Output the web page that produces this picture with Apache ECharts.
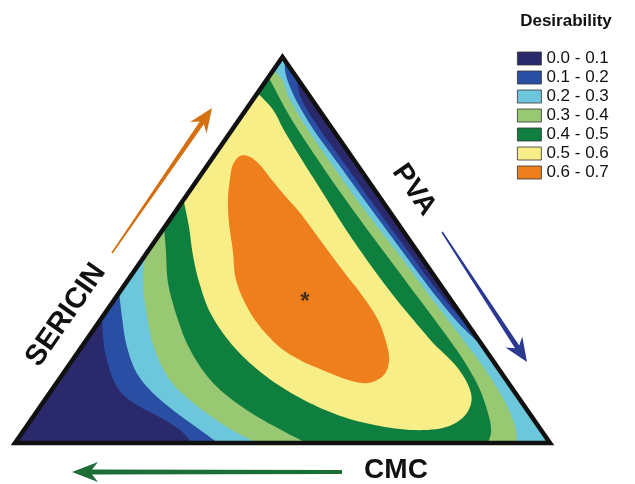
<!DOCTYPE html>
<html><head><meta charset="utf-8">
<script src="https://cdn.jsdelivr.net/npm/echarts@6/dist/echarts.min.js"></script>
<style>html,body{margin:0;padding:0;background:#fff}#c{width:635px;height:484px}</style>
</head><body><div id="c"></div>
<script>
// Ternary compositions stored as [SERICIN %, PVA %]; CMC = 100 - SERICIN - PVA
const levels = ['0.0 - 0.1','0.1 - 0.2','0.2 - 0.3','0.3 - 0.4','0.4 - 0.5','0.5 - 0.6','0.6 - 0.7'];
const levelColors = ['#29296b','#2a4ea4','#6cc7dc','#98c872','#0f7f3f','#f7ee88','#ee7f1c'];
const vertexTop = [100, 0];   // SERICIN
const vertexRight = [0, 100]; // PVA
const vertexLeft = [0, 0];    // CMC
const axisNames = ['SERICIN', 'PVA', 'CMC'];
const legendTitle = 'Desirability';

// contour D = 0.1
const c010Left = [[32.6,0],[27.5,2.7],[21.5,6.4],[14.5,11.8],[10.4,16.9],[6.7,23.7],[3.4,29.1],[0,33.1]];
const c010Right = [[94.6,5.4],[89.2,8.9],[81.1,16.5],[72.0,25.8],[63.0,34.9],[50.0,48.3],[39.6,59.1],[33.2,66.1],[29.3,70.7]];
// contour D = 0.2
const c020Left = [[38.9,0],[32.6,3.7],[25.9,7.8],[18.9,13.0],[13.7,18.4],[8.5,25.3],[3.4,32.9],[0,37.9]];
const c020Right = [[99.2,0.8],[95.3,3.0],[89.2,7.8],[81.1,15.3],[72.0,24.6],[63.0,33.8],[50.0,47.2],[39.6,58.0],[31.9,66.4],[27.2,72.1],[25.1,74.9]];
// contour D = 0.3
const c030Left = [[48.7,0],[41.5,3.2],[32.6,8.4],[24.1,14.1],[16.3,20.8],[10.4,28.1],[4.1,37.6],[0,45.2]];
const c030Right = [[96.6,0],[94.0,3.0],[89.2,6.7],[81.1,14.2],[70.7,24.6],[60.4,35.1],[50.0,46.1],[39.6,56.9],[29.3,67.7],[20.2,77.2],[13.7,83.5],[8.5,88.1],[3.9,91.6],[0,93.8]];
// contour D = 0.4
const c040Left = [[55.7,0],[50.0,3.2],[41.5,7.85],[32.6,14.0],[24.1,20.7],[15.5,29.3],[8.5,39.1],[2.6,49.5],[0,54.6]];
const c040Right = [[94.8,0],[91.5,2.9],[83.7,9.9],[73.3,20.0],[63.0,30.3],[52.6,41.0],[42.2,51.8],[31.9,62.5],[22.8,71.8],[15.0,79.0],[8.5,84.0],[3.4,87.3],[0,88.4]];
// contour D = 0.5 (meets the SERICIN-CMC edge at both ends)
const c050 = [[63.0,0],[55.7,4.7],[48.7,8.9],[41.5,13.7],[33.2,20.1],[24.6,28.8],[17.4,38.1],[11.7,47.4],[7.5,56.1],[4.9,63.9],[3.4,72.1],[3.9,78.0],[6.5,80.4],[10.6,80.0],[15.0,77.2],[20.2,72.2],[25.4,65.8],[29.3,61.4],[37.0,52.9],[46.1,43.4],[55.2,34.3],[64.2,25.7],[73.3,17.0],[81.1,9.7],[86.3,5.1],[90.7,0]];
// contour D = 0.6 (closed)
const c060 = [[74.4,4.9],[74.1,6.9],[72.0,9.8],[68.1,14.0],[64.0,18.5],[59.6,23.5],[53.4,29.9],[47.4,36.1],[43.0,40.7],[38.3,45.7],[31.9,51.9],[25.4,56.8],[21.0,59.4],[17.4,60.1],[15.5,58.0],[16.6,53.4],[19.2,47.4],[21.5,42.5],[25.4,36.3],[32.6,28.2],[41.5,20.7],[50.0,15.7],[57.0,11.5],[63.0,8.3],[68.1,6.1],[72.0,4.7]];
// optimum point
const optimum = [37.6, 35.4];

const FONT = '"Liberation Sans", Arial, sans-serif';

function toXY(pt) { return [pt[1] + pt[0] / 2, pt[0]]; }
function spline(pts, closed) {
  const n = pts.length, out = [], steps = 8;
  const get = i => closed ? pts[(i + n) % n] : pts[Math.max(0, Math.min(n - 1, i))];
  const segs = closed ? n : n - 1;
  for (let i = 0; i < segs; i++) {
    const p0 = get(i - 1), p1 = get(i), p2 = get(i + 1), p3 = get(i + 2);
    for (let k = 0; k < steps; k++) {
      const t = k / steps, t2 = t * t, t3 = t2 * t;
      out.push([0, 1].map(d => 0.5 * ((2 * p1[d]) + (-p0[d] + p2[d]) * t +
        (2 * p0[d] - 5 * p1[d] + 4 * p2[d] - p3[d]) * t2 + (-p0[d] + 3 * p1[d] - 3 * p2[d] + p3[d]) * t3)));
    }
  }
  if (!closed) out.push(pts[n - 1]);
  return out;
}
const rev = a => a.slice().reverse();
const bandParts = [
  [['pt', vertexTop], ['pt', vertexRight], ['pt', vertexLeft]],
  [['pt', vertexTop], ['curve', c010Right], ['pt', vertexRight], ['curve', rev(c010Left)]],
  [['pt', vertexTop], ['curve', c020Right], ['pt', vertexRight], ['curve', rev(c020Left)]],
  [['curve', c030Right], ['curve', rev(c030Left)]],
  [['curve', c040Right], ['curve', rev(c040Left)]],
  [['curve', c050]],
  [['closed', c060]]
];
function renderBand(params, api) {
  const parts = bandParts[params.seriesIndex];
  let pts = [];
  parts.forEach(([kind, val]) => {
    if (kind === 'pt') pts.push(api.coord(toXY(val)));
    else {
      const px = val.map(p => api.coord(toXY(p)));
      pts = pts.concat(spline(px, kind === 'closed'));
    }
  });
  return { type: 'polygon', shape: { points: pts }, style: { fill: api.visual('color') } };
}

function arrow(x1, y1, x2, y2, w0, w1, hl, hw, notch, color) {
  const L = Math.hypot(x2 - x1, y2 - y1), ux = (x2 - x1) / L, uy = (y2 - y1) / L, nx = -uy, ny = ux;
  const bx = x2 - ux * hl, by = y2 - uy * hl, kx = x2 - ux * (hl - notch), ky = y2 - uy * (hl - notch);
  return { type: 'polygon', silent: true, shape: { points: [
    [x1 + nx * w0, y1 + ny * w0], [kx + nx * w1, ky + ny * w1], [bx + nx * hw, by + ny * hw], [x2, y2],
    [bx - nx * hw, by - ny * hw], [kx - nx * w1, ky - ny * w1], [x1 - nx * w0, y1 - ny * w0]] },
    style: { fill: color } };
}

const chart = echarts.init(document.getElementById('c'), null, { renderer: 'canvas' });
const series = levels.map((name, i) => ({
  type: 'custom', name, coordinateSystem: 'cartesian2d', renderItem: renderBand,
  data: [[50, 50]], itemStyle: { color: levelColors[i] }, silent: true, z: 2
}));
series.push({
  type: 'custom', name: 'outline', coordinateSystem: 'cartesian2d', data: [[50, 50]], silent: true, z: 3,
  renderItem: (params, api) => ({ type: 'polygon',
    shape: { points: [vertexTop, vertexRight, vertexLeft].map(p => api.coord(toXY(p))) },
    style: { fill: 'none', stroke: '#111', lineWidth: 4.5, lineJoin: 'miter' } })
});
series.push({
  type: 'scatter', name: 'optimum', data: [toXY(optimum)], symbolSize: 1, silent: true, z: 4,
  itemStyle: { color: 'rgba(0,0,0,0)' },
  label: { show: true, position: 'inside', formatter: '*', fontSize: 24, fontWeight: 'bold', color: '#1a1a1a', fontFamily: FONT, offset: [0, 5] }
});

chart.setOption({
  animation: false,
  backgroundColor: '#fff',
  grid: { left: 15, right: 85, top: 57, bottom: 41 },
  xAxis: { type: 'value', min: 0, max: 100, show: false },
  yAxis: { type: 'value', min: 0, max: 100, show: false },
  legend: {
    data: levels, orient: 'vertical', left: 517, top: 50, padding: 0, itemWidth: 24, itemHeight: 13, itemGap: 2,
    icon: 'rect', selectedMode: false,
    itemStyle: { borderColor: '#333', borderWidth: 0.8 },
    textStyle: { fontSize: 17, fontFamily: FONT, color: '#111' }
  },
  graphic: [
    { type: 'text', x: 566, y: 21, style: { text: legendTitle, font: 'bold 17px ' + FONT, fill: '#111', align: 'center', verticalAlign: 'middle' } },
    { type: 'text', x: 66, y: 315, rotation: 0.965, style: { text: axisNames[0], font: 'bold 29px ' + FONT, fill: '#111', align: 'center', verticalAlign: 'middle' } },
    { type: 'text', x: 414, y: 190, rotation: -0.965, style: { text: axisNames[1], font: 'bold 28px ' + FONT, fill: '#111', align: 'center', verticalAlign: 'middle' } },
    { type: 'text', x: 396, y: 470, style: { text: axisNames[2], font: 'bold 28px ' + FONT, fill: '#111', align: 'center', verticalAlign: 'middle' } },
    arrow(112, 253, 212, 108, 0.8, 2.5, 24, 10, 6, '#d4700f'),
    arrow(442, 232, 527, 362, 0.8, 2.5, 24, 10, 6, '#2b3990'),
    arrow(342, 472, 72, 472, 2, 2.5, 26, 10, 6, '#1c6e36')
  ],
  series
});
</script></body></html>
